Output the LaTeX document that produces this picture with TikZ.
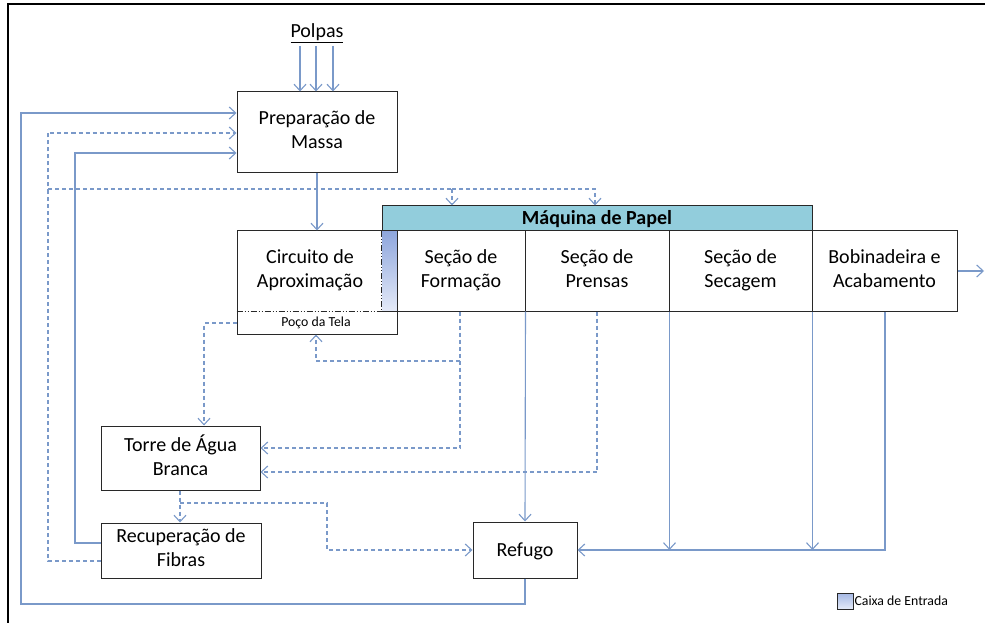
\documentclass[tikz,border=0pt]{standalone}
\usepackage{fontspec}
\setmainfont{Carlito}
\usetikzlibrary{arrows.meta}
\definecolor{lnc}{RGB}{122,153,201}
\definecolor{hdrc}{RGB}{146,205,220}
\definecolor{bxc}{RGB}{40,40,40}
\definecolor{cxtop}{RGB}{142,166,221}
\definecolor{cxbot}{RGB}{228,234,248}
\newcommand{\mainf}{\fontsize{20}{24}\selectfont}
\newcommand{\smallf}{\fontsize{13.8}{16}\selectfont}
\newcommand{\topstrut}{\rule{0pt}{18.5pt}}
\newcommand{\botstrut}{\rule[-5.5pt]{0pt}{5.5pt}}
\tikzset{
  x=1pt, y=-1pt,
  box/.style={draw=bxc, line width=1pt, inner sep=0pt, align=center, font=\mainf, fill=white,
    execute at begin node=\topstrut, execute at end node=\botstrut},
  sl/.style={draw=lnc, line width=1.1pt},
  dl/.style={draw=lnc, line width=1.1pt, dash pattern=on 4pt off 3pt},
  arr/.style={-{Straight Barb[length=6.5pt,width=12pt,line width=1.1pt]}},
  lbl/.style={inner sep=0pt, align=center, font=\mainf}
}
\begin{document}
\begin{tikzpicture}
\useasboundingbox (0,0) rectangle (989,623);
% frame
\draw[line width=2pt] (8,623) -- (8,4) -- (985,4);

% nodes
\node[lbl] (polpas) at (317,33) {\underline{Polpas}};
\node[box, minimum width=160pt, minimum height=81pt] (prep) at (317,132.5) {Preparação de\\Massa};
\node[box, minimum width=160pt, minimum height=103pt, execute at begin node={}, execute at end node={}] (circ) at (317,282.5) {};
\node[lbl, execute at begin node=\topstrut, execute at end node=\botstrut] (circtxt) at (310,271) {Circuito de\\Aproximação};
\node[lbl, font=\smallf] (poco) at (316,323) {Poço da Tela};
\node[inner sep=0pt, minimum width=15pt, minimum height=80pt, top color=cxtop, bottom color=cxbot] (caixa) at (389.5,271) {};
\draw[bxc, line width=0.8pt, dash pattern=on 6pt off 2pt on 1pt off 2pt on 1pt off 2pt] (caixa.north west) -- (caixa.south west);
\draw[bxc, line width=0.8pt, dash pattern=on 6pt off 2pt on 1pt off 2pt on 1pt off 2pt] (circ.west |- caixa.south) -- (caixa.south west);
\draw[bxc, line width=1pt] (caixa.south west) -- (caixa.south east);

\node[box, fill=hdrc, minimum width=430pt, minimum height=25pt, font=\mainf\bfseries, execute at begin node={}, execute at end node={}] (hdr) at (597,218.5) {Máquina de Papel};
\node[box, minimum width=128pt, minimum height=80pt] (form) at (461,271) {Seção de\\Formação};
\node[box, minimum width=144pt, minimum height=80pt] (pren) at (597,271) {Seção de\\Prensas};
\node[box, minimum width=143pt, minimum height=80pt] (sec) at (740.5,271) {Seção de\\Secagem};
\node[box, minimum width=145pt, minimum height=80pt] (bob) at (884.5,271) {Bobinadeira e\\Acabamento};

\node[box, minimum width=159pt, minimum height=64pt] (torre) at (180.5,458) {Torre de Água\\Branca};
\node[box, minimum width=160pt, minimum height=55pt] (recup) at (181,550.5) {Recuperação de\\Fibras};
\node[box, minimum width=104pt, minimum height=56pt] (refugo) at (525,550) {Refugo};

% legend
\node[draw=bxc, line width=0.8pt, inner sep=0pt, minimum width=16pt, minimum height=16pt, top color=cxtop!80, bottom color=cxbot] (legsq) at (845,601) {};
\node[anchor=west, inner sep=0pt, font=\smallf, xshift=1pt] (legtxt) at (legsq.east) {Caixa de Entrada};

% coordinates
\coordinate (rail) at (21,604);
\coordinate (dj) at (48,189);
\coordinate (dj2) at (452,189);
\coordinate (sj) at (75,153);
\coordinate (fj) at (460,361);
\coordinate (tj) at (180,503);
\coordinate (tj2) at (327,550);
\coordinate (outend) at (984,271);

% Polpas arrows
\foreach \xx in {300,316,333}
  \draw[sl,arr] (polpas.south -| \xx,0) ++(0,3) -- (prep.north -| \xx,0);

% prep -> circuito
\draw[sl,arr] (prep.south) -- (circ.north);

% outer solid loop from Refugo
\draw[sl,arr] (refugo.south) |- (rail) |- (prep.west |- 0,113);
% dashed loop from Recuperacao
\draw[dl,arr] (recup.west |- 0,561) -| (dj) |- (prep.west |- 0,133);
\draw[dl] (dj) -- (dj2);
\draw[dl,arr] (dj2) -| (hdr.north -| 595,0);
\draw[dl,arr] (dj2) -- (hdr.north -| dj2);
% solid loop from Recuperacao
\draw[sl,arr] (recup.west |- 0,543) -| (sj) -- (prep.west |- sj);

% circuito -> torre
\draw[dl,arr] (circ.west |- 0,323) -| (torre.north -| 204,0);
% formacao -> torre, and -> poco
\draw[dl,arr] (form.south -| fj) |- (torre.east |- 0,448);
\draw[dl,arr] (fj) -| (circ.south -| 316,0);
% prensas -> torre
\draw[dl,arr] (pren.south -| 597,0) |- (torre.east |- 0,472);

% machine -> refugo
\draw[sl,arr] (form.south east) -- (refugo.north);
\draw[sl,arr] (pren.south east) -- (pren.south east |- refugo.east);
\draw[sl,arr] (sec.south east) -- (sec.south east |- refugo.east);
\draw[sl,arr] (bob.south -| 885,0) |- (refugo.east);

% torre -> recup, torre -> refugo
\draw[dl,arr] (torre.south -| tj) -- (recup.north -| tj);
\draw[dl,arr] (tj) -| (tj2) -- (refugo.west);

% output
\draw[sl,arr] (bob.east) -- (outend);
\end{tikzpicture}
\end{document}
